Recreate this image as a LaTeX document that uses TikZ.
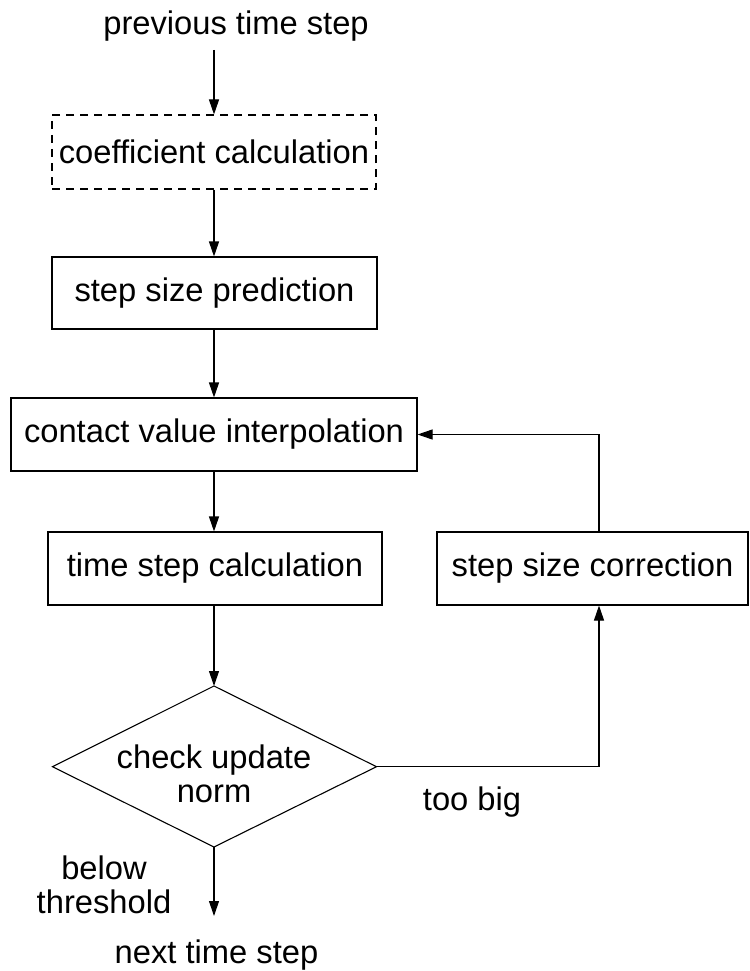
\documentclass[tikz,border=0pt]{standalone}
\usepackage{fontspec}
\setmainfont{Liberation Sans}
\usetikzlibrary{arrows.meta}
\begin{document}
\begin{tikzpicture}[x=1pt,y=-1pt,
  every node/.style={font=\fontsize{32.7}{34}\selectfont},
  box/.style={draw, line width=1.1pt, inner sep=0pt, minimum height=73pt},
  conn/.style={line width=1.1pt},
  arr/.style={conn, -{Triangle[length=15pt,width=10pt]}},
  plain/.style={inner sep=0pt, align=center}]
\useasboundingbox (0,0) rectangle (749,971);
% texts
\node[plain, anchor=base] (prev) at (236,35) {previous time step};
\node[plain, anchor=base] (next) at (216.5,963) {next time step};
% boxes
\node[box, dashed, dash pattern=on 8pt off 6pt, minimum width=324pt, minimum height=74pt] (coef) at (214,152) {coefficient calculation};
\node[box, minimum width=325pt, minimum height=72pt] (pred) at (214.5,293) {step size prediction};
\node[box, minimum width=406pt] (cvi) at (214,434.5) {contact value interpolation};
\node[box, minimum width=334pt] (tsc) at (215,568.5) {time step calculation};
\node[box, minimum width=311pt] (corr) at (592.5,568.5) {step size correction};
% diamond
\coordinate (dtop) at (214,686);
\coordinate (dright) at (376.5,766.7);
\coordinate (dbot) at (214,847);
\coordinate (dleft) at (52.5,766.7);
\draw[conn, line join=miter] (dtop) -- (dright) -- (dbot) -- (dleft) -- cycle;
\node[plain] (chk) at (214,773.5) {check update\\norm};
% labels
\node[plain, anchor=base] (big) at (472,810) {too big};
\node[plain] (below) at (104,884.5) {below\\threshold};
% connector coordinates
\coordinate (prevend) at (214,50);
\coordinate (nextend) at (214,916);
\coordinate (ax) at (214,0);
\coordinate (cx) at (599,0);
% connectors
\draw[arr] (prevend) -- (ax |- coef.north);
\draw[arr] (ax |- coef.south) -- (ax |- pred.north);
\draw[arr] (ax |- pred.south) -- (ax |- cvi.north);
\draw[arr] (ax |- cvi.south) -- (ax |- tsc.north);
\draw[arr] (ax |- tsc.south) -- (dtop);
\draw[arr] (dright) -| (cx |- corr.south);
\draw[arr] (cx |- corr.north) |- (cvi.east);
\draw[arr] (dbot) -- (nextend);
\end{tikzpicture}
\end{document}
